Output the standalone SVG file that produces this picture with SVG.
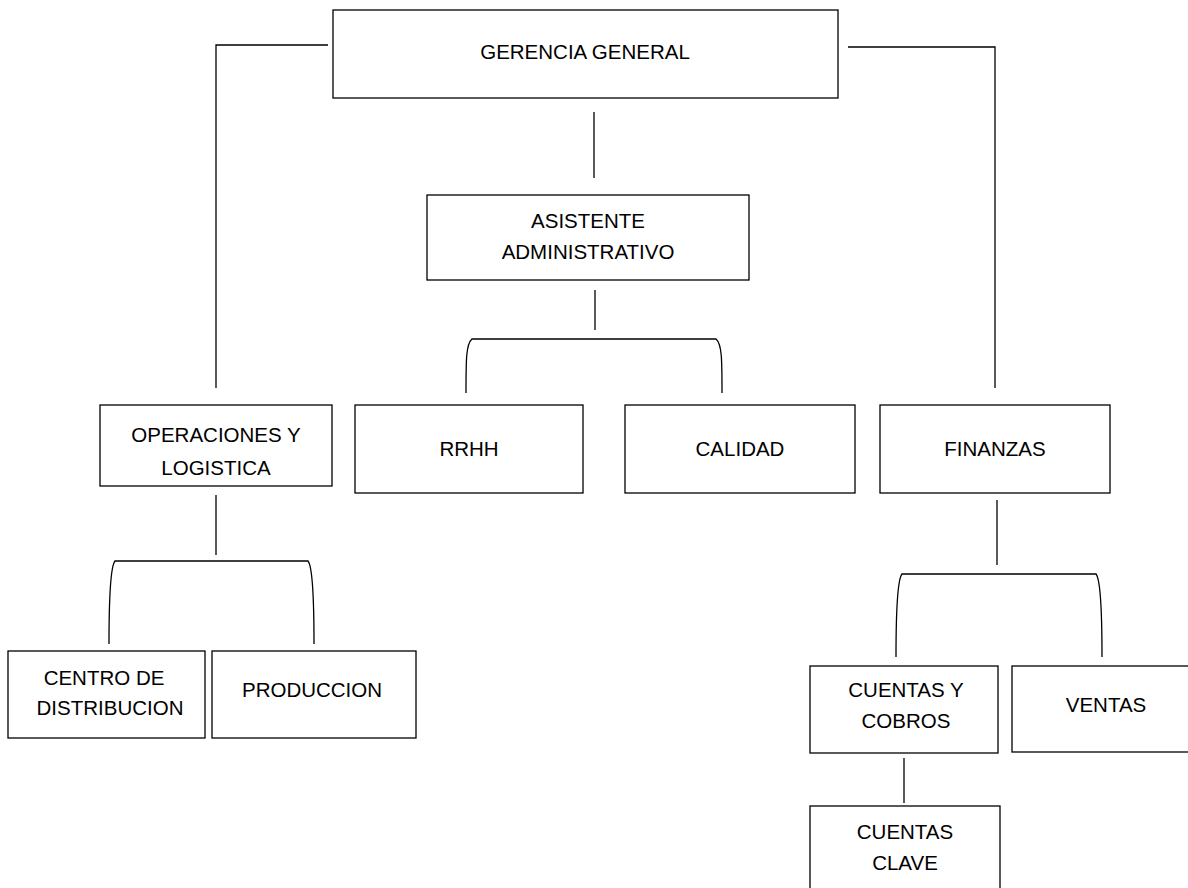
<svg xmlns="http://www.w3.org/2000/svg" width="1188" height="888" viewBox="0 0 1188 888">
<style>
.box{fill:#fff;stroke:#000;stroke-width:1.3}
.t{font-family:"Liberation Sans",Arial,sans-serif;font-size:20.5px;fill:#000;text-anchor:middle}
.c{fill:none;stroke:#000;stroke-width:1.3}
</style>
<rect width="1188" height="888" fill="#fff"/>
<g id="connectors">
<path class="c" d="M328 45 H216 V388"/>
<path class="c" d="M848 47 H995 V388"/>
<path class="c" d="M594 112 V178"/>
<path class="c" d="M595 290 V330"/>
<path class="c" d="M466 393 C466 360 466 344 472 339 H716 C722 344 722 360 722 393"/>
<path class="c" d="M216 495 V555"/>
<path class="c" d="M109 644 C109 600 110 567 115 561 H308 C313 567 314 600 314 644"/>
<path class="c" d="M997 500 V565"/>
<path class="c" d="M896 657 C896 612 897 580 902 574 H1096 C1101 580 1102 612 1102 657"/>
<path class="c" d="M904 758 V803"/>
</g>
<g id="gerencia"><rect class="box" x="333" y="10" width="505" height="88"/><text class="t" x="585" y="59">GERENCIA GENERAL</text></g>
<g id="asistente"><rect class="box" x="427" y="195" width="322" height="85"/><text class="t" x="588" y="228">ASISTENTE</text><text class="t" x="588" y="259">ADMINISTRATIVO</text></g>
<g id="operaciones"><rect class="box" x="100" y="405" width="232" height="81"/><text class="t" x="216" y="442">OPERACIONES Y</text><text class="t" x="216" y="475">LOGISTICA</text></g>
<g id="rrhh"><rect class="box" x="355" y="405" width="228" height="88"/><text class="t" x="469" y="456">RRHH</text></g>
<g id="calidad"><rect class="box" x="625" y="405" width="230" height="88"/><text class="t" x="740" y="456">CALIDAD</text></g>
<g id="finanzas"><rect class="box" x="880" y="405" width="230" height="88"/><text class="t" x="995" y="456">FINANZAS</text></g>
<g id="centro"><rect class="box" x="8" y="651" width="197" height="87"/><text class="t" x="104" y="685">CENTRO DE</text><text class="t" x="110" y="715">DISTRIBUCION</text></g>
<g id="produccion"><rect class="box" x="212" y="651" width="204" height="87"/><text class="t" x="312" y="697">PRODUCCION</text></g>
<g id="cuentas-cobros"><rect class="box" x="810" y="666" width="188" height="87"/><text class="t" x="906" y="697">CUENTAS Y</text><text class="t" x="906" y="728">COBROS</text></g>
<g id="ventas"><rect class="box" x="1012" y="666" width="190" height="86"/><text class="t" x="1106" y="712">VENTAS</text></g>
<g id="cuentas-clave"><rect class="box" x="810" y="806" width="190" height="90"/><text class="t" x="905" y="839">CUENTAS</text><text class="t" x="905" y="870">CLAVE</text></g>
</svg>
